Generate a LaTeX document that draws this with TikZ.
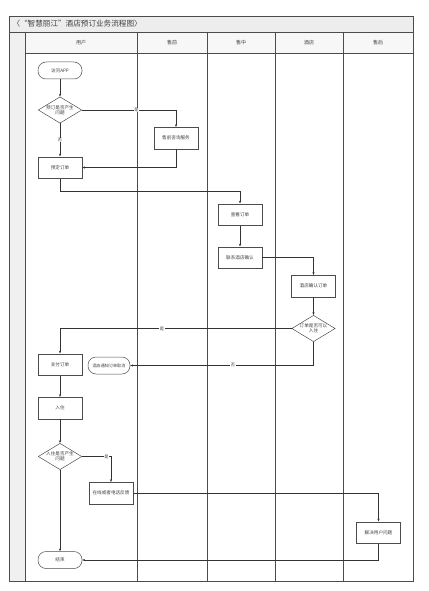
\documentclass[tikz,border=0pt]{standalone}
\usepackage{fontspec}
\newfontfamily\cjk{Noto Sans CJK SC}
\usetikzlibrary{arrows.meta, shapes.geometric}

\begin{document}
\begin{tikzpicture}[
  x=1pt, y=-1pt,
  lane/.style={draw=black!70, line width=0.6pt},
  head/.style={font=\cjk\fontsize{5}{6}\selectfont, text=black!75},
  box/.style={draw=black!70, line width=0.5pt, minimum width=44pt,
              minimum height=21.5pt, inner sep=1pt,
              font=\cjk\fontsize{4.6}{5.4}\selectfont, text=black!75},
  term/.style={box, rounded corners=8pt, minimum height=17pt},
  decision/.style={box, diamond, aspect=1.65, minimum width=43pt,
                   minimum height=26pt, inner sep=0pt, align=center},
  lbl/.style={fill=white, inner sep=0.6pt,
              font=\cjk\fontsize{4.2}{5}\selectfont, text=black!75},
  arr/.style={-{Stealth[length=2.8pt, width=2.2pt]}, line width=0.5pt,
              draw=black!80}
]
  \useasboundingbox (0,0) rectangle (428,591);

  \fill[black!7] (9,16) rectangle (413,32);
  \fill[black!3] (25,32) rectangle (413,53);
  \fill[black!6] (9,32) rectangle (25,581);
  \draw[lane] (9,16) rectangle (413,581);
  \draw[lane] (9,32) -- (413,32);
  \draw[lane] (25,53) -- (413,53);
  \draw[lane] (25,32) -- (25,581);
  \draw[lane] (137,32) -- (137,581);
  \draw[lane] (207,32) -- (207,581);
  \draw[lane] (275,32) -- (275,581);
  \draw[lane] (343,32) -- (343,581);

  \node[anchor=west, font=\cjk\fontsize{7.6}{8.5}\selectfont, text=black!75]
    (title) at (9,24) {〈“智慧丽江”酒店预订业务流程图〉};

  \node[head] (hUser)  at (81,43)  {用户};
  \node[head] (hPre)   at (172,43) {售前};
  \node[head] (hMid)   at (241,43) {售中};
  \node[head] (hHotel) at (309,43) {酒店};
  \node[head] (hPost)  at (378,43) {售后};

  \node[term]     (start)    at (60,70.5)    {访问APP};
  \node[decision] (q1)       at (60,110)     {预订是否产生\\问题};
  \node[box]      (presale)  at (176,138)    {售前咨询服务};
  \node[box]      (order)    at (60,167.5)   {预定订单};
  \node[box]      (check)    at (240,214.5)  {查看订单};
  \node[box]      (contact)  at (240,257.5)  {联系酒店确认};
  \node[box]      (confirm)  at (313.5,286)  {酒店确认订单};
  \node[decision] (q2)       at (313.5,328.5){订单是否可以\\入住};
  \node[box]      (pay)      at (60,364.5)   {支付订单};
  \node[term, minimum width=42pt, font=\cjk\fontsize{4.1}{5}\selectfont]
                  (cancel)   at (109,365.5)  {酒店通知订单取消};
  \node[box]      (stay)     at (60,408)     {入住};
  \node[decision] (q3)       at (60,456.5)   {入住是否产生\\问题};
  \node[box]      (feedback) at (111,493)    {在线或者电话反馈};
  \node[box]      (solve)    at (378.5,532.5){解决用户问题};
  \node[term]     (finish)   at (60,560)     {结束};

  \draw[arr] (start) -- (q1);
  \draw[arr] (q1.east) -| node[lbl, pos=0.29] {是} (presale.north);
  \draw[arr] (q1) -- node[lbl] {否} (order);
  \draw[arr] (presale.south) |- (order.east);
  \draw[arr] (order.south) -- ++(0,13) -| (check.north);
  \draw[arr] (check) -- (contact);
  \draw[arr] (contact.east) -| (confirm.north);
  \draw[arr] (confirm) -- (q2);
  \draw[arr] (q2.west) -| node[lbl, pos=0.28] {是} (pay.north);
  \draw[arr] (q2.south) |- node[lbl, pos=0.72] {否} (cancel.east);
  \draw[arr] (pay) -- (stay);
  \draw[arr] (stay) -- (q3);
  \draw[arr] (q3.east) -| node[lbl, pos=0.42] {是} (feedback.north);
  \draw[arr] (q3) -- (finish);
  \draw[arr] (feedback.east) -| (solve.north);
  \draw[arr] (solve.south) |- (finish.east);
\end{tikzpicture}
\end{document}
